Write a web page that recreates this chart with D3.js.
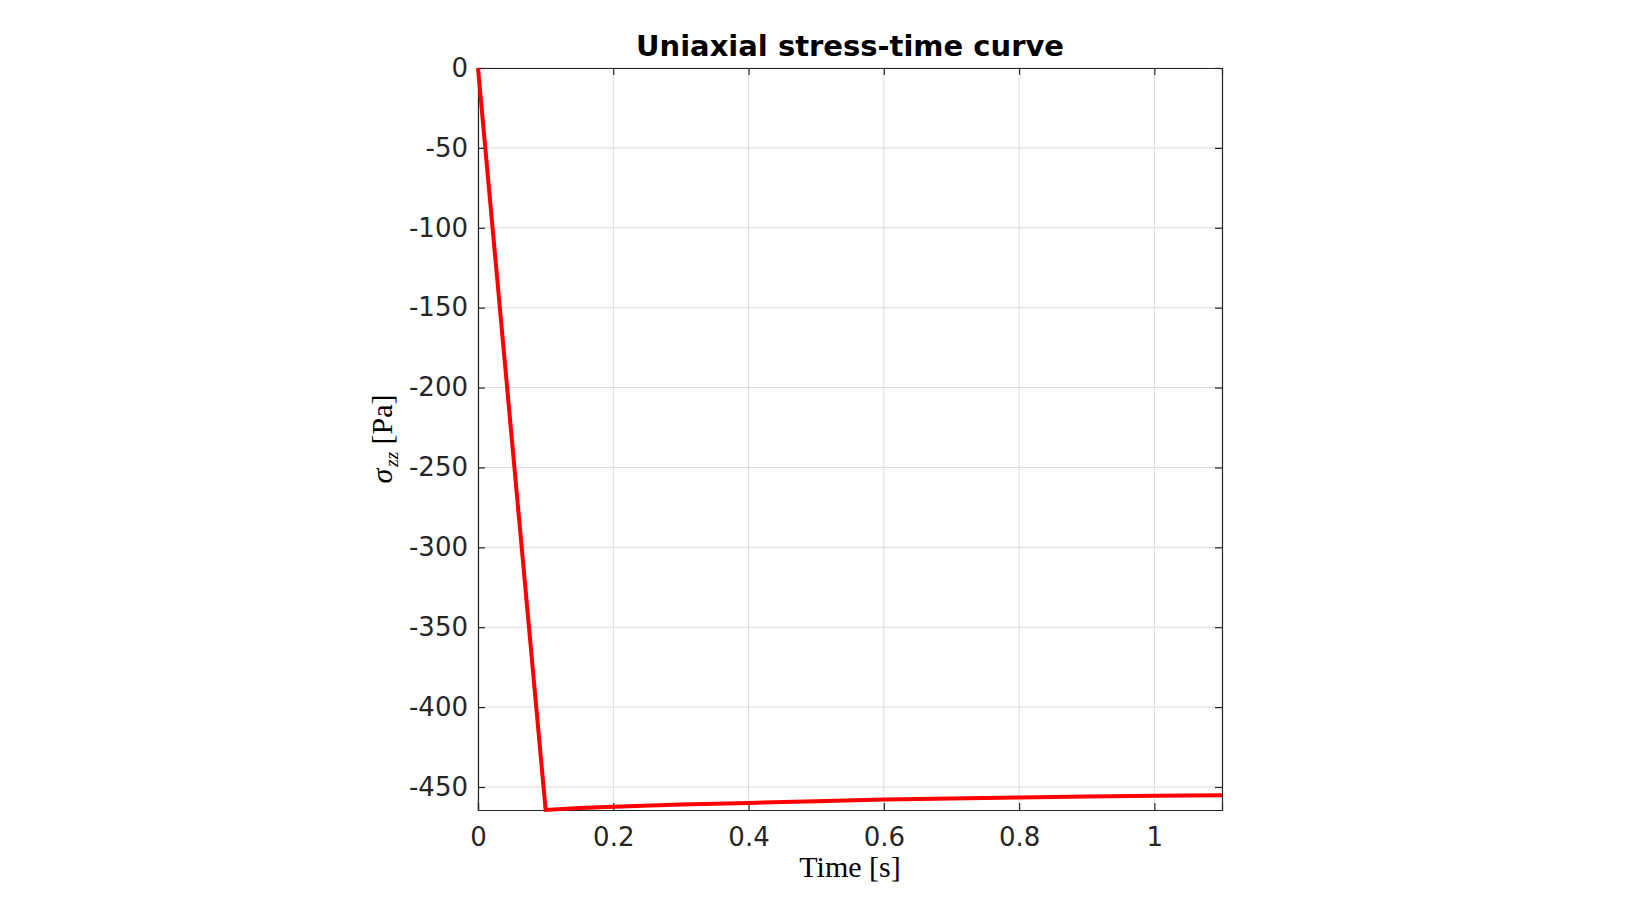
<!DOCTYPE html>
<html>
<head>
<meta charset="utf-8">
<script src="https://cdn.jsdelivr.net/npm/d3@7"></script>
<style>
  body { margin: 0; background: #fff; }
  .tick text { font-family: "DejaVu Sans", sans-serif; font-size: 26px; fill: #262626; }
</style>
</head>
<body>
<div id="chart"></div>
<script>
var width = 1642, height = 911;
var plotLeft = 478, plotTop = 68, plotRight = 1222, plotBottom = 810;

// data
let time   = [0, 0.1, 0.15, 0.2, 0.3, 0.4, 0.5, 0.6, 0.7, 0.8, 0.9, 1.0, 1.1];
let stress = [0, -464.4, -463.2, -462.3, -461.0, -460.0, -458.9, -457.9, -457.2, -456.6, -456.0, -455.5, -455.1];
let xTicks = [0, 0.2, 0.4, 0.6, 0.8, 1];
let yTicks = [0, -50, -100, -150, -200, -250, -300, -350, -400, -450];

let svg = d3.select('#chart')
  .append('svg')
  .attr('width', width)
  .attr('height', height);

let x = d3.scaleLinear().domain([0, 1.1]).range([plotLeft, plotRight]);
let y = d3.scaleLinear().domain([-464.4, 0]).range([plotBottom, plotTop]);

// grid
svg.append('g')
  .selectAll('line')
  .data(xTicks)
  .enter().append('line')
  .attr('x1', d => x(d)).attr('x2', d => x(d))
  .attr('y1', plotTop).attr('y2', plotBottom)
  .attr('stroke', '#dcdcdc').attr('stroke-width', 1);

svg.append('g')
  .selectAll('line')
  .data(yTicks)
  .enter().append('line')
  .attr('x1', plotLeft).attr('x2', plotRight)
  .attr('y1', d => y(d)).attr('y2', d => y(d))
  .attr('stroke', '#dcdcdc').attr('stroke-width', 1);

// axes, ticks pointing inward, plain hyphen minus like matlab
let fmt = d => String(d);
let xAxis = d3.axisBottom(x).tickValues(xTicks).tickSize(-7).tickPadding(18).tickFormat(fmt);
let yAxis = d3.axisLeft(y).tickValues(yTicks).tickSize(-7).tickPadding(10).tickFormat(fmt);

svg.append('g')
  .attr('transform', `translate(0,${plotBottom})`)
  .call(xAxis);
svg.append('g')
  .attr('transform', `translate(${plotLeft},0)`)
  .call(yAxis);
svg.append('g')
  .attr('transform', `translate(0,${plotTop})`)
  .call(d3.axisTop(x).tickValues(xTicks).tickSize(-7).tickFormat(''));
svg.append('g')
  .attr('transform', `translate(${plotRight},0)`)
  .call(d3.axisRight(y).tickValues(yTicks).tickSize(-7).tickFormat(''));

svg.selectAll('.domain').attr('stroke', '#262626').attr('stroke-width', 1.2);
svg.selectAll('.tick line').attr('stroke', '#262626').attr('stroke-width', 1.2);

// the curve
let line = d3.line().x((d, i) => x(time[i])).y(d => y(d));
svg.append('path')
  .datum(stress)
  .attr('d', line)
  .attr('fill', 'none')
  .attr('stroke', '#ff0000')
  .attr('stroke-width', 4)
  .attr('stroke-linejoin', 'miter');

// texts
svg.append('text')
  .attr('x', (plotLeft + plotRight) / 2)
  .attr('y', 56)
  .attr('text-anchor', 'middle')
  .style('font-family', '"DejaVu Sans", sans-serif')
  .style('font-weight', 'bold')
  .style('font-size', '29px')
  .text('Uniaxial stress-time curve');

svg.append('text')
  .attr('x', (plotLeft + plotRight) / 2)
  .attr('y', 877)
  .attr('text-anchor', 'middle')
  .style('font-family', '"Liberation Serif", serif')
  .style('font-size', '30px')
  .text('Time [s]');

let yl = svg.append('text')
  .attr('transform', `translate(392,${(plotTop + plotBottom) / 2}) rotate(-90)`)
  .attr('text-anchor', 'middle')
  .style('font-family', '"Liberation Serif", serif')
  .style('font-size', '30px');
yl.append('tspan').style('font-style', 'italic').text('σ');
yl.append('tspan').style('font-style', 'italic').style('font-size', '19px').attr('dx', 2).attr('dy', 6).text('zz');
yl.append('tspan').attr('dy', -6).text('  [Pa]');
</script>
</body>
</html>
